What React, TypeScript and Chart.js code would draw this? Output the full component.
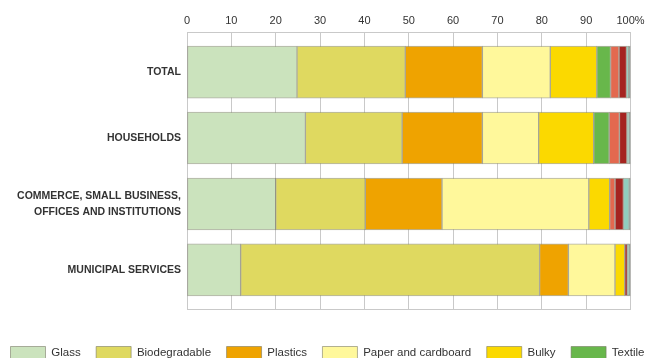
import React, { useEffect, useRef } from "react";
import { Chart, registerables } from "chart.js";

Chart.register(...registerables);

// Waste composition by origin, share of total mass (%)
const categories: (string | string[])[] = [
  "TOTAL",
  "HOUSEHOLDS",
  ["COMMERCE, SMALL BUSINESS,", "OFFICES AND INSTITUTIONS"],
  "MUNICIPAL SERVICES",
];

const tickValues = [0, 10, 20, 30, 40, 50, 60, 70, 80, 90, 100];

const glass = [24.8, 26.7, 20.0, 12.1];
const biodegradable = [24.4, 21.8, 20.2, 67.4];
const plastics = [17.4, 18.1, 17.3, 6.5];
const paper = [15.3, 12.7, 33.1, 10.5];
const bulky = [10.5, 12.4, 4.7, 2.2];
const textile = [3.1, 3.5, 0, 0];
const metals = [1.9, 2.3, 1.2, 0];
const hazardous = [1.7, 1.7, 1.9, 0.6];
const wood = [0.5, 0.5, 1.3, 0.3];
const other = [0.4, 0.3, 0.3, 0.4];

const seriesNames = [
  "Glass",
  "Biodegradable",
  "Plastics",
  "Paper and cardboard",
  "Bulky",
  "Textile",
  "Metals",
  "Hazardous waste",
  "Wood",
  "Other",
];
const seriesValues = [glass, biodegradable, plastics, paper, bulky, textile, metals, hazardous, wood, other];
const seriesColors = [
  "#cbe3bd",
  "#dfd960",
  "#efa300",
  "#fff89b",
  "#fbd900",
  "#68b74b",
  "#e3694f",
  "#a52420",
  "#90cebf",
  "#6e8c86",
];

const FONT = '"Liberation Sans", Arial, Helvetica, sans-serif';
const GRID = "#c9c9c9";

export default function App() {
  const ref = useRef<HTMLCanvasElement | null>(null);

  useEffect(() => {
    if (!ref.current) return;
    const chart = new Chart(ref.current, {
      type: "bar",
      data: {
        datasets: seriesNames.map((name, k) => ({
          label: name,
          data: seriesValues[k].map((v, i) => ({ x: v, y: i })),
          backgroundColor: seriesColors[k],
          borderColor: "rgba(115,115,95,0.55)",
          borderWidth: 1,
          borderSkipped: false,
          barThickness: 52,
        })),
      },
      options: {
        indexAxis: "y",
        responsive: false,
        animation: false,
        layout: { padding: 0 },
        plugins: {
          legend: {
            position: "bottom",
            align: "start",
            labels: {
              boxWidth: 35,
              boxHeight: 13,
              padding: 15.5,
              color: "#333",
              font: { family: FONT, size: 11.5 },
            },
          },
          tooltip: { enabled: false },
        },
        scales: {
          x: {
            type: "linear",
            position: "top",
            stacked: true,
            min: 0,
            max: 100,
            afterBuildTicks: (s: any) => {
              s.ticks = tickValues.map((v) => ({ value: v }));
            },
            afterFit: (s: any) => {
              s.height = 32.5;
            },
            ticks: {
              padding: 5,
              color: "#333",
              font: { family: FONT, size: 11 },
              callback: (v: any) => (v === 100 ? "100%" : String(v)),
            },
            grid: { color: GRID, drawTicks: false, tickLength: 0, lineWidth: 1 },
            border: { color: GRID },
          },
          x2: {
            type: "linear",
            position: "bottom",
            display: true,
            afterFit: (s: any) => {
              s.height = 21.5;
            },
            ticks: { display: false },
            grid: { display: false, drawTicks: false, tickLength: 0 },
            border: { display: true, color: GRID },
          },
          y: {
            type: "linear",
            position: "left",
            stacked: true,
            reverse: true,
            offset: false,
            min: -0.6,
            max: 3.6,
            afterFit: (s: any) => {
              s.width = 192;
            },
            ticks: {
              stepSize: 1,
              autoSkip: false,
              padding: 6,
              color: "#333",
              font: { family: FONT, size: 10.5, weight: "bold", lineHeight: 1.55 },
              callback: (v: any) => (Number.isInteger(v) && categories[v] !== undefined ? categories[v] : ""),
            },
            grid: { display: false, offset: false, drawTicks: false, tickLength: 0 },
            border: { color: GRID },
          },
          yR: {
            type: "linear",
            position: "right",
            display: true,
            afterFit: (s: any) => {
              s.width = 54.5;
            },
            ticks: { display: false },
            grid: { display: false, drawTicks: false, tickLength: 0 },
            border: { display: false },
          },
        },
      } as any,
    });
    return () => chart.destroy();
  }, []);

  return (
    <div
      style={{
        position: "fixed",
        left: 0,
        top: 0,
        width: 649,
        height: 358,
        overflow: "hidden",
        background: "#fff",
      }}
    >
      <canvas
        ref={ref}
        width={690}
        height={398}
        style={{ position: "absolute", left: -5.5, top: 0, width: 690, height: 398, display: "block" }}
      />
    </div>
  );
}
